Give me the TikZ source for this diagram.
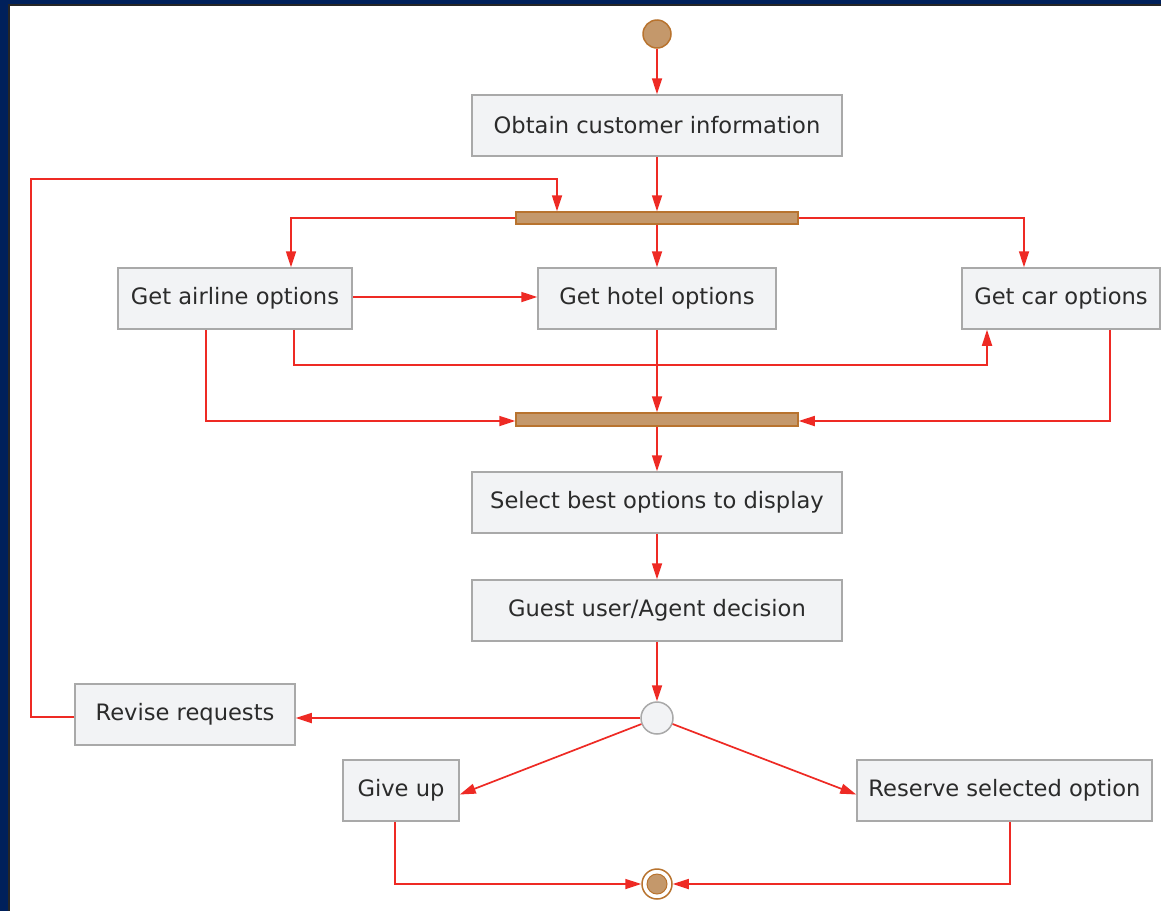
\documentclass[tikz,border=0pt]{standalone}
\usepackage{fontspec}
\setmainfont{DejaVu Sans}
\usetikzlibrary{arrows.meta,calc}
\definecolor{navy}{HTML}{00205B}
\definecolor{rim}{HTML}{262626}
\definecolor{boxfill}{HTML}{F2F3F5}
\definecolor{boxline}{HTML}{A9A9A9}
\definecolor{bronze}{HTML}{C4986B}
\definecolor{bronzeline}{HTML}{B8732E}
\definecolor{flow}{HTML}{EE2A24}
\definecolor{ink}{HTML}{2B2B2B}
\begin{document}
\begin{tikzpicture}[x=1pt,y=-1pt,
  actbox/.style={draw=boxline,fill=boxfill,line width=1.5pt,minimum height=61pt,
    inner sep=0pt,text=ink,font=\fontsize{22.6}{26}\selectfont},
  syncbar/.style={draw=bronzeline,fill=bronze,line width=1.5pt,minimum width=282pt,
    minimum height=12pt,inner sep=0pt},
  arr/.style={draw=flow,line width=1.7pt,-{Triangle[length=16pt,width=10pt]}}]
% frame and canvas
\useasboundingbox (0,0) rectangle (1161,911);
\fill[navy] (0,0) rectangle (1161,911);
\fill[rim] (8,4) rectangle (1161,911);
\fill[white] (10,6) rectangle (1161,911);
% nodes
\node[circle,draw=bronzeline,fill=bronze,line width=1.5pt,minimum size=28pt,inner sep=0pt] (start) at (657,34) {};
\node[actbox,minimum width=370pt] (obtain) at (657,125.5) {Obtain customer information};
\node[syncbar] (bar1) at (657,218) {};
\node[actbox,minimum width=234pt] (airline) at (235,298.5) {Get airline options};
\node[actbox,minimum width=238pt] (hotel) at (657,298.5) {Get hotel options};
\node[actbox,minimum width=198pt] (car) at (1061,298.5) {Get car options};
\node[syncbar,minimum height=13pt] (bar2) at (657,419.5) {};
\node[actbox,minimum width=370pt] (select) at (657,502.5) {Select best options to display};
\node[actbox,minimum width=370pt] (guest) at (657,610.5) {Guest user/Agent decision};
\node[circle,draw=boxline,fill=boxfill,line width=1.5pt,minimum size=32pt,inner sep=0pt] (dec) at (657,718) {};
\node[actbox,minimum width=220pt] (revise) at (185,714.5) {Revise requests};
\node[actbox,minimum width=116pt] (giveup) at (401,790.5) {Give up};
\node[actbox,minimum width=295pt] (reserve) at (1004.5,790.5) {Reserve selected option};
\node[circle,draw=bronzeline,fill=white,line width=1.5pt,minimum size=30pt,inner sep=0pt] (end) at (657,884) {};
\node[circle,draw=bronzeline,fill=bronze,line width=1pt,minimum size=20pt,inner sep=0pt] (endin) at (657,884) {};
% control flow
\draw[arr] (start) -- (obtain.north);
\draw[arr] (obtain.south) -- (bar1.north);
\draw[arr] (bar1.west) -| ([xshift=56pt]airline.north);
\draw[arr] (bar1.south) -- (hotel.north);
\draw[arr] (bar1.east) -| ([xshift=-37pt]car.north);
\draw[arr] ([yshift=1.5pt]airline.east) -- ([yshift=1.5pt]hotel.west);
\draw[arr] ([xshift=59pt]airline.south) -- ++(0,35) -| ([xshift=-74pt]car.south);
\draw[arr] ([xshift=-29pt]airline.south) |- ([yshift=-1.5pt]bar2.west);
\draw[arr] (hotel.south) -- (bar2.north);
\draw[arr] ([xshift=49pt]car.south) |- ([yshift=-1.5pt]bar2.east);
\draw[arr] (bar2.south) -- (select.north);
\draw[arr] (select.south) -- (guest.north);
\draw[arr] (guest.south) -- (dec.north);
\draw[arr] (dec.west) -- (dec.west -| revise.east);
\draw[arr] ([yshift=-2.5pt]revise.west) -- ++(-43,0) |- ([xshift=-100pt,yshift=32pt]bar1.north) -- ([xshift=-100pt]bar1.north);
\draw[arr] (dec) -- ([yshift=-4pt]giveup.east);
\draw[arr] (dec) -- ([yshift=-4pt]reserve.west);
\draw[arr] ([xshift=-6pt]giveup.south) |- (end.west);
\draw[arr] ([xshift=5.5pt]reserve.south) |- (end.east);
\end{tikzpicture}
\end{document}
